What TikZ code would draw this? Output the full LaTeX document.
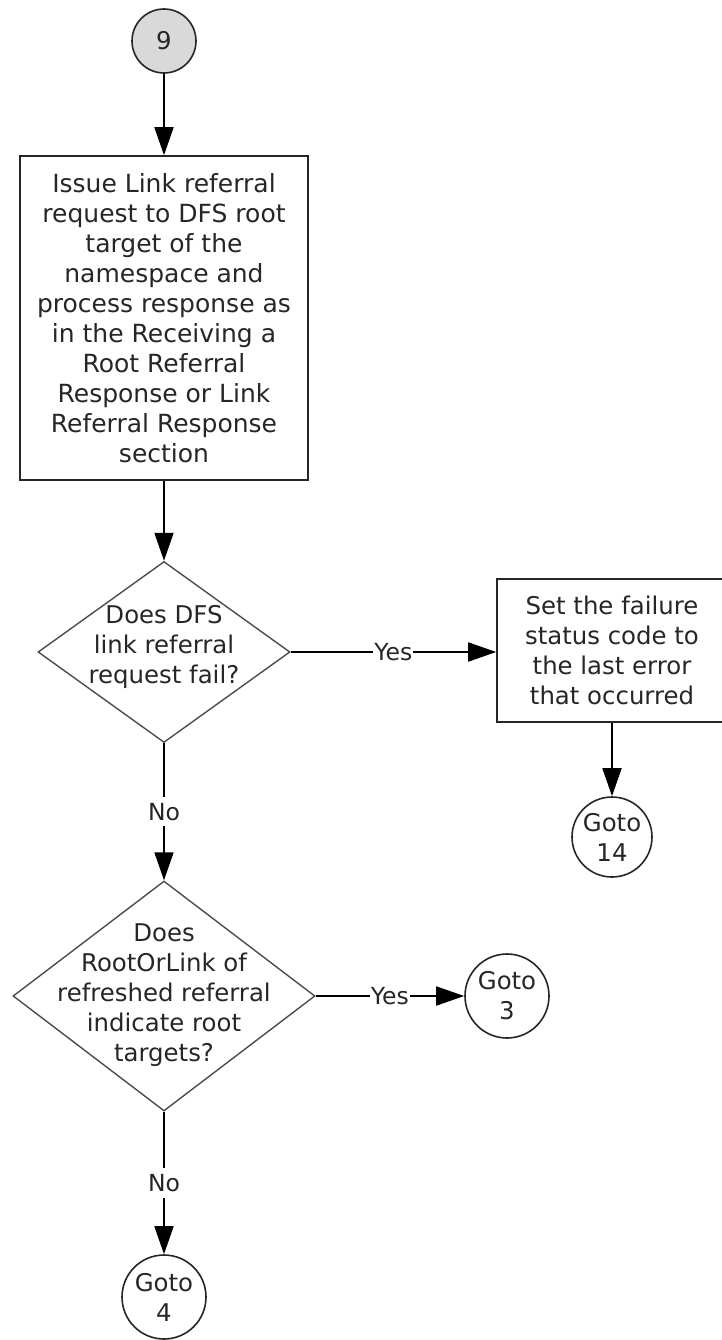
\documentclass[tikz,border=0pt]{standalone}
\usepackage{fontspec}
\setmainfont{DejaVu Sans}
\usetikzlibrary{shapes.geometric,arrows.meta}
\begin{document}
\begin{tikzpicture}[x=1pt,y=-1pt,
  txt/.style={font=\fontsize{24.4}{30}\selectfont, text=black!85, align=center, inner sep=0pt},
  bigtxt/.style={font=\fontsize{25}{30}\selectfont, text=black!85, align=center, inner sep=0pt},
  border/.style={draw=black!85, line width=1.6pt},
  stepbox/.style={rectangle, border, fill=white},
  endpoint/.style={circle, border, inner sep=0pt},
  decision/.style={diamond, draw=black!70, line width=1.4pt, inner sep=0pt},
  conn/.style={draw=black, line width=1.8pt, -{Triangle[length=28pt,width=19pt]}},
  lab/.style={fill=white, inner xsep=1pt, inner ysep=6pt, font=\fontsize{23.5}{28}\selectfont, text=black!85}
]
\useasboundingbox (0,0) rectangle (721,1340);
\node[endpoint, fill=black!15, minimum size=64pt, txt] (c9) at (164,41) {9};
\node[stepbox, minimum width=288pt, minimum height=324pt, bigtxt] (b1) at (164,318) {Issue Link referral\\request to DFS root\\target of the\\namespace and\\process response as\\in the Receiving a\\Root Referral\\Response or Link\\Referral Response\\section};
\node[decision, minimum width=252pt, minimum height=181pt] (d1) at (164,652) {};
\node[txt] (d1t) at (164,647) {Does DFS\\link referral\\request fail?};
\node[stepbox, minimum width=230pt, minimum height=143pt, txt] (b2) at (612,650.5) {Set the failure\\status code to\\the last error\\that occurred};
\node[endpoint, minimum size=80pt, txt] (g14) at (612,837) {Goto\\14};
\node[decision, minimum width=302pt, minimum height=230pt] (d2) at (164,996) {};
\node[txt] (d2t) at (164,995) {Does\\RootOrLink of\\refreshed referral\\indicate root\\targets?};
\node[endpoint, minimum size=84pt, txt] (g3) at (507,996) {Goto\\3};
\node[endpoint, minimum size=84pt, txt] (g4) at (164,1297) {Goto\\4};
\draw[conn] (c9) -- (b1);
\draw[conn] (b1) -- (d1);
\draw[conn] (d1.east) -- node[lab]{Yes} (d1.east -| b2.west);
\draw[conn] (b2) -- (g14);
\draw[conn] (d1) -- node[lab]{No} (d2);
\draw[conn] (d2) -- node[lab]{Yes} (g3);
\draw[conn] (d2) -- node[lab]{No} (g4);
\end{tikzpicture}
\end{document}
